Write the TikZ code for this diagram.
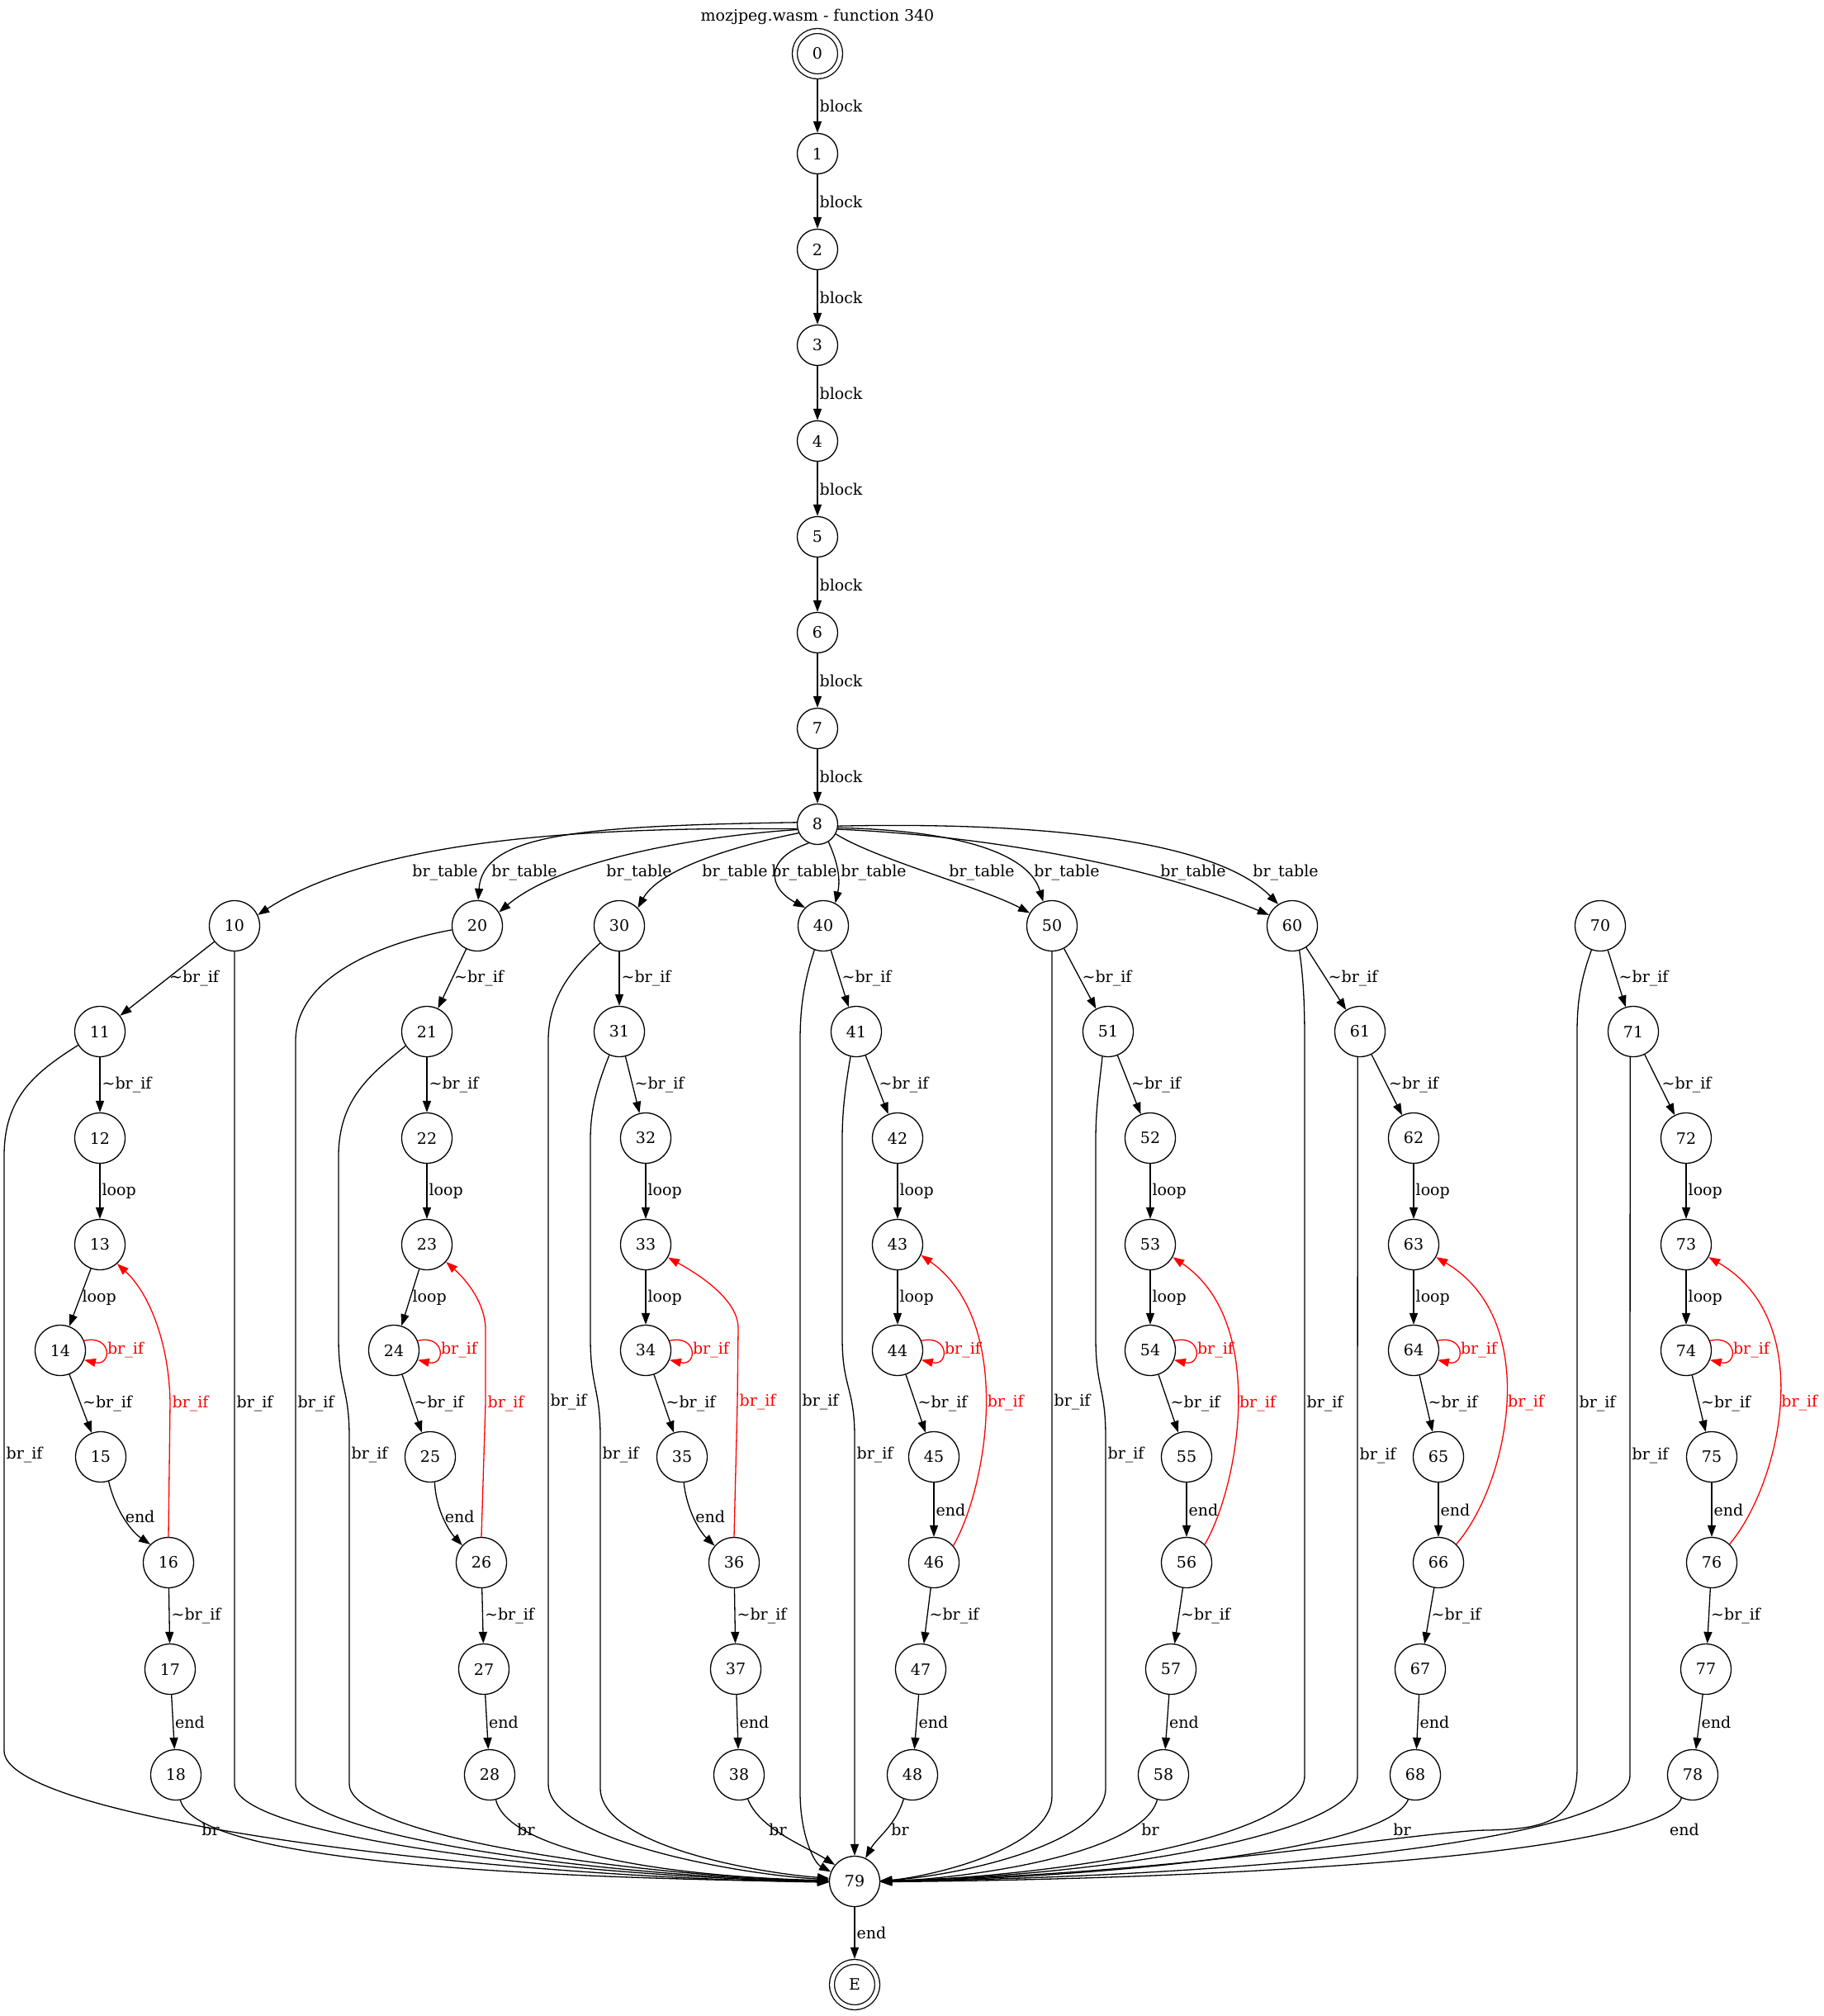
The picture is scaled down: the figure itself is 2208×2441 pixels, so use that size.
\documentclass[tikz,border=0pt]{standalone}
\usepackage{fontspec}
\setmainfont{DejaVu Serif}
\usetikzlibrary{arrows.meta}
\newcommand{\nbrif}{\textasciitilde br\_if}

\begin{document}
\begin{tikzpicture}[
    x=0.5pt, y=-0.5pt,
    font=\fontsize{9.5}{11}\selectfont,
    st/.style={circle, draw, line width=0.65pt, minimum size=30.5pt, inner sep=0pt},
    stsm/.style={st, minimum size=24.5pt},
    term/.style={circle, draw, line width=0.65pt, double, double distance=2.35pt, minimum size=27.5pt, inner sep=0pt, outer sep=1.85pt},
    arrow/.style={-{Triangle[length=7pt, width=5pt]}, line width=0.65pt},
    backarrow/.style={arrow, red},
    lab/.style={inner sep=1pt},
    redlab/.style={lab, text=red}
  ]
  \useasboundingbox (0,0) rectangle (2208,2441);
  \fill[white] (0,0) rectangle (2208,2441);

  \node (title) at (990,20) {mozjpeg.wasm - function 340};

  \node[term] (n0) at (990,65) {0};
  \node[stsm] (n1) at (990,186) {1};
  \node[stsm] (n2) at (990,302) {2};
  \node[stsm] (n3) at (990,418) {3};
  \node[stsm] (n4) at (990,534) {4};
  \node[stsm] (n5) at (990,650) {5};
  \node[stsm] (n6) at (990,766) {6};
  \node[stsm] (n7) at (990,882) {7};
  \node[stsm] (n8) at (990,998) {8};

  \node[st] (n10) at (284,1121) {10};
  \node[st] (n11) at (121,1249) {11};
  \node[st] (n12) at (121,1378) {12};
  \node[st] (n13) at (121,1507) {13};
  \node[st] (n14) at (73,1635) {14};
  \node[st] (n15) at (122,1764) {15};
  \node[st] (n16) at (204,1892) {16};
  \node[st] (n17) at (206,2021) {17};
  \node[st] (n18) at (213,2149) {18};

  \node[st] (n20) at (578,1121) {20};
  \node[st] (n21) at (517,1249) {21};
  \node[st] (n22) at (517,1378) {22};
  \node[st] (n23) at (517,1507) {23};
  \node[st] (n24) at (477,1635) {24};
  \node[st] (n25) at (521,1764) {25};
  \node[st] (n26) at (583,1892) {26};
  \node[st] (n27) at (586,2021) {27};
  \node[st] (n28) at (593,2149) {28};

  \node[st] (n30) at (750,1121) {30};
  \node[st] (n31) at (750,1249) {31};
  \node[st] (n32) at (782,1378) {32};
  \node[st] (n33) at (782,1507) {33};
  \node[st] (n34) at (782,1635) {34};
  \node[st] (n35) at (826,1764) {35};
  \node[st] (n36) at (889,1892) {36};
  \node[st] (n37) at (891,2021) {37};
  \node[st] (n38) at (895,2149) {38};

  \node[st] (n40) at (997,1121) {40};
  \node[st] (n41) at (1037,1249) {41};
  \node[st] (n42) at (1087,1378) {42};
  \node[st] (n43) at (1087,1507) {43};
  \node[st] (n44) at (1087,1635) {44};
  \node[st] (n45) at (1131,1764) {45};
  \node[st] (n46) at (1131,1892) {46};
  \node[st] (n47) at (1115,2021) {47};
  \node[st] (n48) at (1105,2149) {48};

  \node[st] (n50) at (1274,1121) {50};
  \node[st] (n51) at (1342,1249) {51};
  \node[st] (n52) at (1393,1378) {52};
  \node[st] (n53) at (1393,1507) {53};
  \node[st] (n54) at (1393,1635) {54};
  \node[st] (n55) at (1437,1764) {55};
  \node[st] (n56) at (1437,1892) {56};
  \node[st] (n57) at (1418,2021) {57};
  \node[st] (n58) at (1409,2149) {58};

  \node[st] (n60) at (1565,1121) {60};
  \node[st] (n61) at (1647,1249) {61};
  \node[st] (n62) at (1712,1378) {62};
  \node[st] (n63) at (1712,1507) {63};
  \node[st] (n64) at (1712,1635) {64};
  \node[st] (n65) at (1742,1764) {65};
  \node[st] (n66) at (1742,1892) {66};
  \node[st] (n67) at (1720,2021) {67};
  \node[st] (n68) at (1714,2149) {68};

  \node[st] (n70) at (1938,1121) {70};
  \node[st] (n71) at (1978,1249) {71};
  \node[st] (n72) at (2042,1378) {72};
  \node[st] (n73) at (2042,1507) {73};
  \node[st] (n74) at (2042,1635) {74};
  \node[st] (n75) at (2073,1764) {75};
  \node[st] (n76) at (2073,1892) {76};
  \node[st] (n77) at (2066,2021) {77};
  \node[st] (n78) at (2050,2149) {78};

  \node[st] (n79) at (1035,2278) {79};
  \node[term] (nE) at (1035,2403) {E};

  \draw[arrow] (n0) -- node[lab,right]{block} (n1);
  \draw[arrow] (n1) -- node[lab,right]{block} (n2);
  \draw[arrow] (n2) -- node[lab,right]{block} (n3);
  \draw[arrow] (n3) -- node[lab,right]{block} (n4);
  \draw[arrow] (n4) -- node[lab,right]{block} (n5);
  \draw[arrow] (n5) -- node[lab,right]{block} (n6);
  \draw[arrow] (n6) -- node[lab,right]{block} (n7);
  \draw[arrow] (n7) -- node[lab,right]{block} (n8);

  \draw[arrow] (n8.193) .. controls (780,1002) and (470,1005) .. (n10.25);
  \draw[arrow] (n8.175) .. controls (700,1000) and (585,1010) .. (n20.88);
  \draw[arrow] (n8.195) .. controls (850,1012) and (680,1040) .. (n20.32);
  \draw[arrow] (n8.205) .. controls (900,1022) and (800,1050) .. (n30.44);
  \draw[arrow] (n8.245) .. controls (925,1040) and (930,1075) .. (n40.135);
  \draw[arrow] (n8.-58) .. controls (1015,1045) and (1018,1065) .. (n40.62);
  \draw[arrow] (n8.-28) .. controls (1060,1040) and (1190,1075) .. (n50.150);
  \draw[arrow] (n8.-10) .. controls (1150,1005) and (1245,1030) .. (n50.110);
  \draw[arrow] (n8.-14) .. controls (1200,1012) and (1400,1050) .. (n60.155);
  \draw[arrow] (n8.-5) .. controls (1250,995) and (1470,1015) .. (n60.123);
  \node[lab] (lt10) at (539,1057) {br\_table};
  \node[lab] (lt20a) at (635,1057) {br\_table};
  \node[lab] (lt20b) at (774,1057) {br\_table};
  \node[lab] (lt30) at (890,1057) {br\_table};
  \node[lab] (lt40a) at (974,1057) {br\_table};
  \node[lab] (lt40b) at (1058,1057) {br\_table};
  \node[lab] (lt50a) at (1189,1057) {br\_table};
  \node[lab] (lt50b) at (1292,1057) {br\_table};
  \node[lab] (lt60a) at (1445,1057) {br\_table};
  \node[lab] (lt60b) at (1557,1057) {br\_table};

  \draw[arrow] (n10) -- node[lab,right]{\nbrif} (n11);
  \draw[arrow] (n11) -- node[lab,right]{\nbrif} (n12);
  \draw[arrow] (n12) -- node[lab,right]{loop} (n13);
  \draw[arrow] (n13) -- node[lab,right]{loop} (n14);
  \draw[arrow] (n14) -- node[lab,right]{\nbrif} (n15);
  \draw[arrow] (n15.-72) .. controls (140,1830) and (160,1855) .. node[lab,right,pos=0.45]{end} (n16.135);
  \draw[arrow] (n16) -- node[lab,right]{\nbrif} (n17);
  \draw[arrow] (n17) -- node[lab,right]{end} (n18);
  \draw[backarrow] (n14.22) .. controls +(34,-8) and +(34,8) .. node[redlab,right]{br\_if} (n14.-22);
  \draw[backarrow] (n16.north) -- (206,1699) node[redlab,right]{br\_if} .. controls (205,1625) and (180,1565) .. (n13.-48);

  \draw[arrow] (n20) -- node[lab,right]{\nbrif} (n21);
  \draw[arrow] (n21) -- node[lab,right]{\nbrif} (n22);
  \draw[arrow] (n22) -- node[lab,right]{loop} (n23);
  \draw[arrow] (n23) -- node[lab,right]{loop} (n24);
  \draw[arrow] (n24) -- node[lab,right]{\nbrif} (n25);
  \draw[arrow] (n25.-80) .. controls (528,1830) and (545,1855) .. node[lab,right,pos=0.45]{end} (n26.138);
  \draw[arrow] (n26) -- node[lab,right]{\nbrif} (n27);
  \draw[arrow] (n27) -- node[lab,right]{end} (n28);
  \draw[backarrow] (n24.22) .. controls +(34,-8) and +(34,8) .. node[redlab,right]{br\_if} (n24.-22);
  \draw[backarrow] (n26.north) -- (588,1699) node[redlab,right]{br\_if} -- (588,1610) .. controls (588,1578) and (565,1550) .. (n23.-42);

  \draw[arrow] (n30) -- node[lab,right]{\nbrif} (n31);
  \draw[arrow] (n31) -- node[lab,right]{\nbrif} (n32);
  \draw[arrow] (n32) -- node[lab,right]{loop} (n33);
  \draw[arrow] (n33) -- node[lab,right]{loop} (n34);
  \draw[arrow] (n34) -- node[lab,right]{\nbrif} (n35);
  \draw[arrow] (n35.-86) .. controls (832,1830) and (848,1855) .. node[lab,right,pos=0.45]{end} (n36.139);
  \draw[arrow] (n36) -- node[lab,right]{\nbrif} (n37);
  \draw[arrow] (n37) -- node[lab,right]{end} (n38);
  \draw[backarrow] (n34.22) .. controls +(34,-8) and +(34,8) .. node[redlab,right]{br\_if} (n34.-22);
  \draw[backarrow] (n36.north) -- (893,1698) node[redlab,right]{br\_if} -- (894,1608) .. controls (894,1575) and (850,1545) .. (n33.-30);

  \draw[arrow] (n40) -- node[lab,right]{\nbrif} (n41);
  \draw[arrow] (n41) -- node[lab,right]{\nbrif} (n42);
  \draw[arrow] (n42) -- node[lab,right]{loop} (n43);
  \draw[arrow] (n43) -- node[lab,right]{loop} (n44);
  \draw[arrow] (n44) -- node[lab,right]{\nbrif} (n45);
  \draw[arrow] (n45) -- node[lab,right]{end} (n46);
  \draw[arrow] (n46) -- node[lab,right]{\nbrif} (n47);
  \draw[arrow] (n47) -- node[lab,right]{end} (n48);
  \draw[backarrow] (n44.22) .. controls +(34,-8) and +(34,8) .. node[redlab,right]{br\_if} (n44.-22);
  \draw[backarrow] (n46.41) .. controls (1196,1800) and (1229,1600) .. node[redlab,right]{br\_if} (n43.-24);

  \draw[arrow] (n50) -- node[lab,right]{\nbrif} (n51);
  \draw[arrow] (n51) -- node[lab,right]{\nbrif} (n52);
  \draw[arrow] (n52) -- node[lab,right]{loop} (n53);
  \draw[arrow] (n53) -- node[lab,right]{loop} (n54);
  \draw[arrow] (n54) -- node[lab,right]{\nbrif} (n55);
  \draw[arrow] (n55) -- node[lab,right]{end} (n56);
  \draw[arrow] (n56) -- node[lab,right]{\nbrif} (n57);
  \draw[arrow] (n57) -- node[lab,right]{end} (n58);
  \draw[backarrow] (n54.22) .. controls +(34,-8) and +(34,8) .. node[redlab,right]{br\_if} (n54.-22);
  \draw[backarrow] (n56.45) .. controls (1500,1800) and (1536,1600) .. node[redlab,right]{br\_if} (n53.-29);

  \draw[arrow] (n60) -- node[lab,right]{\nbrif} (n61);
  \draw[arrow] (n61) -- node[lab,right]{\nbrif} (n62);
  \draw[arrow] (n62) -- node[lab,right]{loop} (n63);
  \draw[arrow] (n63) -- node[lab,right]{loop} (n64);
  \draw[arrow] (n64) -- node[lab,right]{\nbrif} (n65);
  \draw[arrow] (n65) -- node[lab,right]{end} (n66);
  \draw[arrow] (n66) -- node[lab,right]{\nbrif} (n67);
  \draw[arrow] (n67) -- node[lab,right]{end} (n68);
  \draw[backarrow] (n64.22) .. controls +(34,-8) and +(34,8) .. node[redlab,right]{br\_if} (n64.-22);
  \draw[backarrow] (n66.46) .. controls (1825,1800) and (1870,1600) .. node[redlab,right]{br\_if} (n63.-29);

  \draw[arrow] (n70) -- node[lab,right]{\nbrif} (n71);
  \draw[arrow] (n71) -- node[lab,right]{\nbrif} (n72);
  \draw[arrow] (n72) -- node[lab,right]{loop} (n73);
  \draw[arrow] (n73) -- node[lab,right]{loop} (n74);
  \draw[arrow] (n74) -- node[lab,right]{\nbrif} (n75);
  \draw[arrow] (n75) -- node[lab,right]{end} (n76);
  \draw[arrow] (n76) -- node[lab,right]{\nbrif} (n77);
  \draw[arrow] (n77) -- node[lab,right]{end} (n78);
  \draw[backarrow] (n74.22) .. controls +(34,-8) and +(34,8) .. node[redlab,right]{br\_if} (n74.-22);
  \draw[backarrow] (n76.46) .. controls (2154,1800) and (2204,1600) .. node[redlab,right]{br\_if} (n73.-29);

  \draw[arrow] (n10) -- (284,1699) node[lab,right]{br\_if} -- (284,2160) .. controls (284,2225) and (700,2272) .. (n79.181);
  \draw[arrow] (n11.212) .. controls (40,1300) and (5,1330) .. (5,1400) -- (5,1762) node[lab,right]{br\_if} -- (5,2120) .. controls (5,2200) and (560,2272) .. (n79.182);
  \draw[arrow] (n18.-80) .. controls (235,2240) and (500,2272) .. (n79.181);
  \draw[arrow] (n20.189) .. controls (470,1140) and (358,1180) .. (358,1260) -- (358,1699) node[lab,right]{br\_if} -- (358,2160) .. controls (358,2225) and (740,2272) .. (n79.180);
  \draw[arrow] (n21.214) .. controls (450,1300) and (410,1330) .. (410,1400) -- (410,1620) .. controls (410,1680) and (423,1680) .. (423,1740) -- (423,1762) node[lab,right]{br\_if} -- (423,2160) .. controls (423,2225) and (780,2272) .. (n79.179);
  \draw[arrow] (n28.-76) .. controls (615,2240) and (800,2272) .. (n79.178);
  \draw[arrow] (n30.222) .. controls (690,1175) and (664,1210) .. (664,1260) -- (664,1698) node[lab,right]{br\_if} -- (664,2160) .. controls (664,2230) and (900,2270) .. (n79.176);
  \draw[arrow] (n31.247) .. controls (725,1310) and (715,1340) .. (715,1380) -- (715,1620) .. controls (715,1680) and (727,1680) .. (727,1740) -- (727,1762) node[lab,right]{br\_if} -- (727,2165) .. controls (727,2235) and (920,2268) .. (n79.173);
  \draw[arrow] (n38.-70) .. controls (920,2215) and (975,2235) .. (n79.140);
  \draw[arrow] (n40.250) .. controls (975,1185) and (969,1215) .. (969,1260) -- (969,1698) node[lab,right]{br\_if} -- (969,2170) .. controls (969,2220) and (985,2255) .. (n79.158);
  \draw[arrow] (n41.257) .. controls (1025,1310) and (1020,1340) .. (1020,1380) -- (1020,1620) .. controls (1020,1680) and (1035,1680) .. (1035,1740) -- (1035,1762) node[lab,right]{br\_if} -- (n79);
  \draw[arrow] (n48.-110) .. controls (1085,2210) and (1062,2225) .. (n79.65);
  \draw[arrow] (n50) -- (1274,1698) node[lab,right]{br\_if} -- (1274,2175) .. controls (1274,2235) and (1140,2270) .. (n79.0);
  \draw[arrow] (n51.257) .. controls (1332,1310) and (1327,1340) .. (1327,1380) -- (1327,1620) .. controls (1327,1680) and (1339,1680) .. (1339,1740) -- (1339,1762) node[lab,right]{br\_if} -- (1339,2165) .. controls (1339,2230) and (1170,2270) .. (n79.1);
  \draw[arrow] (n58.-104) .. controls (1385,2240) and (1200,2272) .. (n79.-1);
  \draw[arrow] (n60.-74) .. controls (1578,1180) and (1580,1210) .. (1580,1260) -- (1580,1699) node[lab,right]{br\_if} -- (1580,2150) .. controls (1580,2225) and (1280,2272) .. (n79.0);
  \draw[arrow] (n61.-95) -- (1644,1763) node[lab,right]{br\_if} -- (1644,2150) .. controls (1644,2225) and (1320,2272) .. (n79.1);
  \draw[arrow] (n68.-106) .. controls (1680,2240) and (1350,2272) .. (n79.-1);
  \draw[arrow] (n70.250) .. controls (1915,1185) and (1910,1210) .. (1910,1250) -- (1910,1699) node[lab,right]{br\_if} -- (1910,2140) .. controls (1910,2205) and (1870,2215) .. (1800,2216) .. controls (1720,2217) and (1400,2272) .. (n79.2);
  \draw[arrow] (n71.-97) -- (1974,1763) node[lab,right]{br\_if} -- (1974,2150) .. controls (1974,2230) and (1500,2272) .. (n79.0);
  \draw[arrow] (n78.-116) .. controls (2015,2245) and (1500,2275) .. (n79.-1);
  \node[lab] (lb18) at (255,2215) {br};
  \node[lab] (lb28) at (637,2215) {br};
  \node[lab] (lb38) at (942,2215) {br};
  \node[lab] (lb48) at (1090,2215) {br};
  \node[lab] (lb58) at (1393,2215) {br};
  \node[lab] (lb68) at (1698,2215) {br};
  \node[lab] (lb78) at (2040,2215) {end};

  \draw[arrow] (n79) -- node[lab,right]{end} (nE);
\end{tikzpicture}
\end{document}
